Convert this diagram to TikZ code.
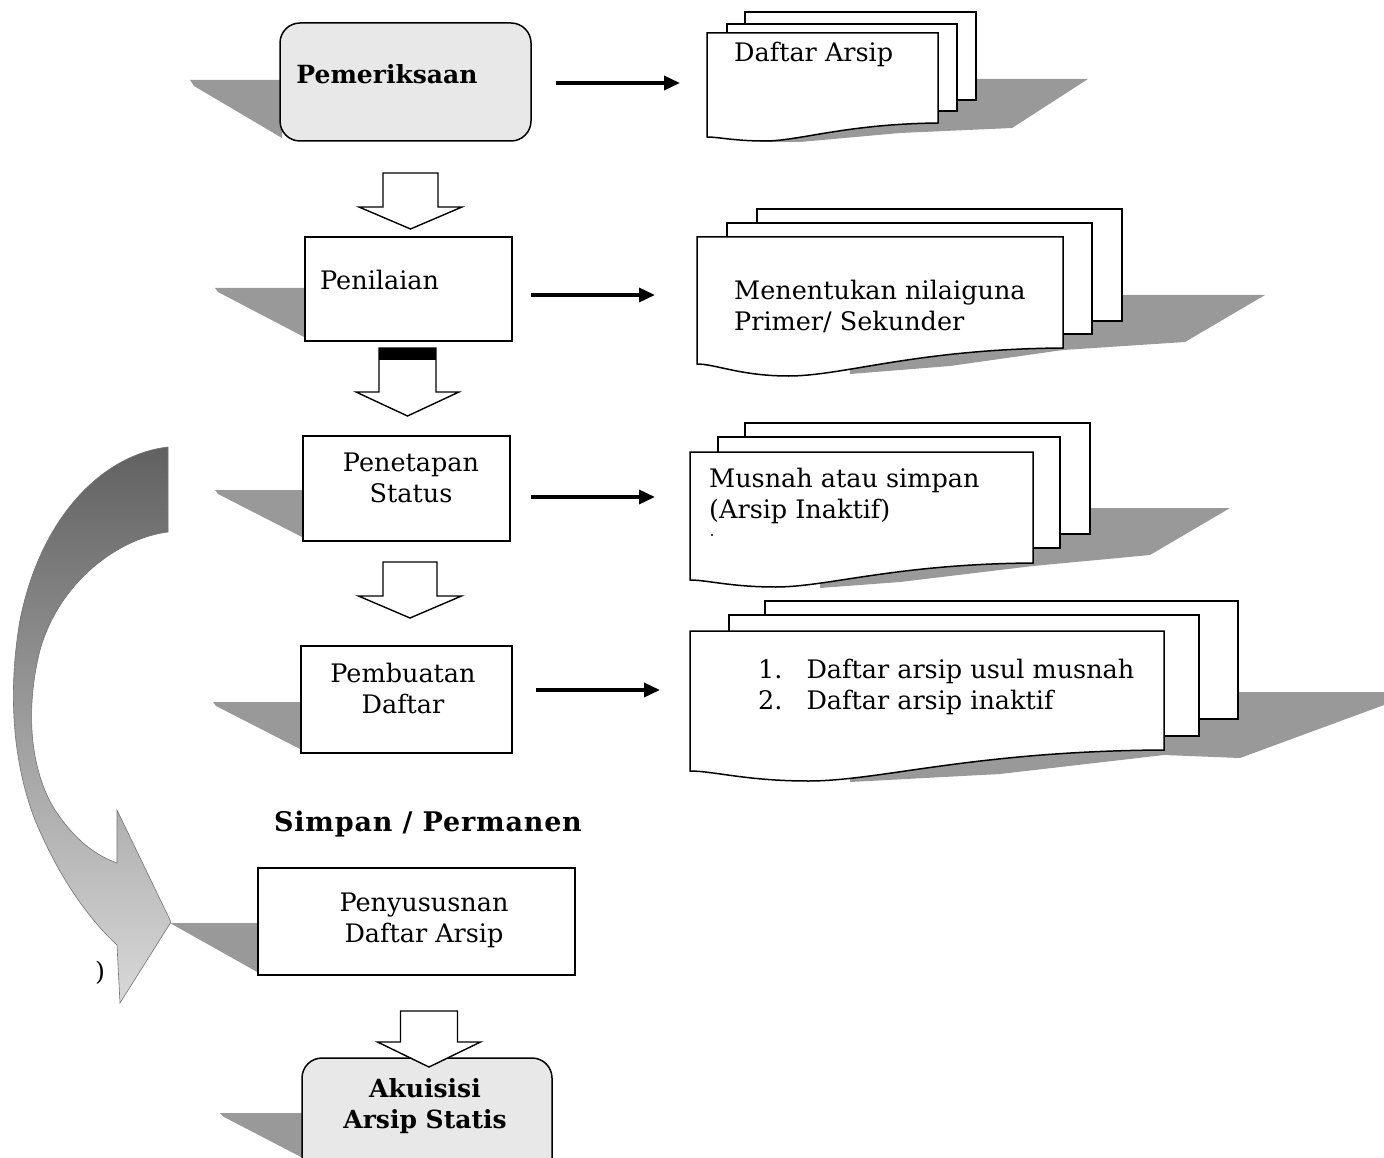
\documentclass[tikz,border=0pt]{standalone}
\usepackage{fontspec}
\setmainfont{DejaVu Serif}
\usetikzlibrary{arrows.meta}
\newcommand\paperA[4]{\draw[sheet] (#1,#2) rectangle (#3,#4);}
\newcommand\paperF[6]{% x1 ytop x2 yright yleft ymin
  \draw[sheet] (#1,#2) -- (#3,#2) -- (#3,#4)
    .. controls ({#1+0.6*(#3-#1)},{#4+1}) and ({#1+0.4*(#3-#1)},#6) .. ({#1+0.25*(#3-#1)},#6)
    .. controls ({#1+0.12*(#3-#1)},#6) and ({#1+0.05*(#3-#1)},#5) .. (#1,#5) -- cycle;}
\newcommand\blockarr[5]{% cx top shaftbottom tip halfshaft
  \draw[barrow] ({#1-#5},#2) -- ({#1+#5},#2) -- ({#1+#5},#3) -- ({#1+51.5},#3) -- (#1,#4)
    -- ({#1-51.5},#3) -- ({#1-#5},#3) -- cycle;}
\begin{document}
\begin{tikzpicture}[x=1pt,y=-1pt,
  box/.style={draw, line width=1.5pt, fill=white, inner sep=0pt},
  rbox/.style={box, rounded corners=20pt, fill=black!9},
  shadow/.style={fill=black!40, draw=none},
  flow/.style={line width=3.5pt, -{Triangle[length=16pt,width=14pt]}},
  sheet/.style={draw, line width=1.5pt, fill=white, line join=miter},
  barrow/.style={draw, line width=1.4pt, fill=white, line join=miter},
  txt/.style={font=\fontsize{25.5}{31}\selectfont, inner sep=0pt, align=center},
  btxt/.style={txt, font=\fontsize{25}{31}\selectfont\bfseries}]
\useasboundingbox (0,0) rectangle (1384,1158);
\clip (0,0) rectangle (1384,1158);
\fill[white] (0,0) rectangle (1384,1158);

% ---------- curved arrow ----------
\shade[top color=black!62, bottom color=black!15, draw=black!55, line width=0.6pt]
  (168,447) .. controls (100,455) and (40,520) .. (20,620)
  .. controls (8,690) and (12,760) .. (35,820)
  .. controls (60,880) and (90,920) .. (117,945)
  -- (120,1003) -- (171,922) -- (117,810) -- (117,863)
  .. controls (95,855) and (75,840) .. (55,810)
  .. controls (30,770) and (25,710) .. (40,650)
  .. controls (60,580) and (120,538) .. (168,532) -- cycle;
\node[txt, anchor=center] (paren) at (100,973) {)};

% ---------- box shadows ----------
\fill[shadow] (190,80) -- (282,80) -- (282,138) -- (194,86) -- cycle;
\fill[shadow] (215,288) -- (306,288) -- (306,338) -- (218,292) -- cycle;
\fill[shadow] (215,490) -- (304,490) -- (304,538) -- (218,494) -- cycle;
\fill[shadow] (213,702) -- (302,702) -- (302,750) -- (216,706) -- cycle;
\fill[shadow] (170,923) -- (259,923) -- (259,973) -- cycle;
\fill[shadow] (220,1113) -- (303,1113) -- (303,1158) -- (224,1117) -- cycle;

% ---------- document shadows ----------
\fill[shadow] (930,79) -- (1088,79) -- (1012,128) -- (900,133) -- (800,142) -- (760,142) -- (760,100) -- cycle;
\fill[shadow] (1090,295) -- (1265,295) -- (1185,342) -- (1063,350) -- (950,366) -- (850,374) -- (850,300) -- cycle;
\fill[shadow] (1060,508) -- (1230,508) -- (1150,555) -- (1033,566) -- (900,582) -- (820,588) -- (820,510) -- cycle;
\fill[shadow] (1200,692) -- (1384,692) -- (1384,705) -- (1240,758) -- (1164,755) -- (1000,774) -- (850,782) -- (850,700) -- cycle;

% ---------- process boxes ----------
\node[rbox, minimum width=251pt, minimum height=118pt] (pem) at (405.5,82) {};
\node[btxt] (pemT) at (387,74) {Pemeriksaan};
\node[box, minimum width=207pt, minimum height=104pt] (pen) at (408.5,289) {};
\node[txt, anchor=west] (penT) at (320,280) {Penilaian};
\node[box, minimum width=207pt, minimum height=105pt] (pet) at (406.5,488.5) {};
\node[txt] (petT) at (411,478) {Penetapan\\Status};
\node[box, minimum width=211pt, minimum height=107pt] (pbd) at (406.5,699.5) {};
\node[txt] (pbdT) at (403,688) {Pembuatan\\Daftar};
\node[btxt, font=\fontsize{27}{31}\selectfont\bfseries\addfontfeature{LetterSpace=3}] (simp) at (428,824) {Simpan / Permanen};
\node[box, minimum width=317pt, minimum height=107pt] (pny) at (416.5,921.5) {};
\node[txt] (pnyT) at (424,920) {Penyususnan\\Daftar Arsip};
\node[rbox, minimum width=250pt, minimum height=120pt] (aku) at (427,1118) {};
\node[btxt] (akuT) at (425,1106) {Akuisisi\\Arsip Statis};

% ---------- block arrows ----------
\blockarr{410.5}{173}{207}{229}{27.5}
\blockarr{407.5}{348}{392}{416}{28.5}
\fill[black] (379,348) rectangle (436,360);
\blockarr{410}{562}{596}{618}{27}
\blockarr{429}{1011}{1042}{1067}{28.5}

% ---------- document stacks ----------
\paperA{745}{12}{976}{100}
\paperA{727}{24}{957}{111}
\paperF{707}{33}{938}{123}{137}{141}
\node[txt, anchor=west] (d1) at (734,54) {Daftar Arsip};
\coordinate (d1in) at (680,83);

\paperA{757}{209}{1122}{321}
\paperA{727}{223}{1092}{334}
\paperF{697}{237}{1063}{348}{364}{376}
\node[txt, anchor=west, align=left] (d2) at (734,306) {Menentukan nilaiguna\\Primer/ Sekunder};
\coordinate (d2in) at (655,295);

\paperA{745}{423}{1090}{534}
\paperA{718}{437}{1060}{548}
\paperF{690}{452}{1033}{563}{580}{587}
\node[txt, anchor=west, align=left] (d3) at (709,496) {Musnah atau simpan\\(Arsip Inaktif)};
\fill (712,535) circle (1.2);
\coordinate (d3in) at (655,497);

\paperA{765}{601}{1238}{719}
\paperA{729}{615}{1199}{736}
\paperF{690}{631}{1164}{750}{771}{781}
\node[txt, anchor=west, align=left] (d4) at (758,688)
  {\begin{tabular}{@{}l@{\hspace{24pt}}l@{}}1.&Daftar arsip usul musnah\\2.&Daftar arsip inaktif\end{tabular}};
\coordinate (d4in) at (660,690);

% ---------- connectors ----------
\draw[flow, shorten <=24pt] (pem.east |- d1in) -- (d1in);
\draw[flow, shorten <=18pt] (pen.east |- d2in) -- (d2in);
\draw[flow, shorten <=20pt] (pet.east |- d3in) -- (d3in);
\draw[flow, shorten <=23pt] (pbd.east |- d4in) -- (d4in);
\end{tikzpicture}
\end{document}
